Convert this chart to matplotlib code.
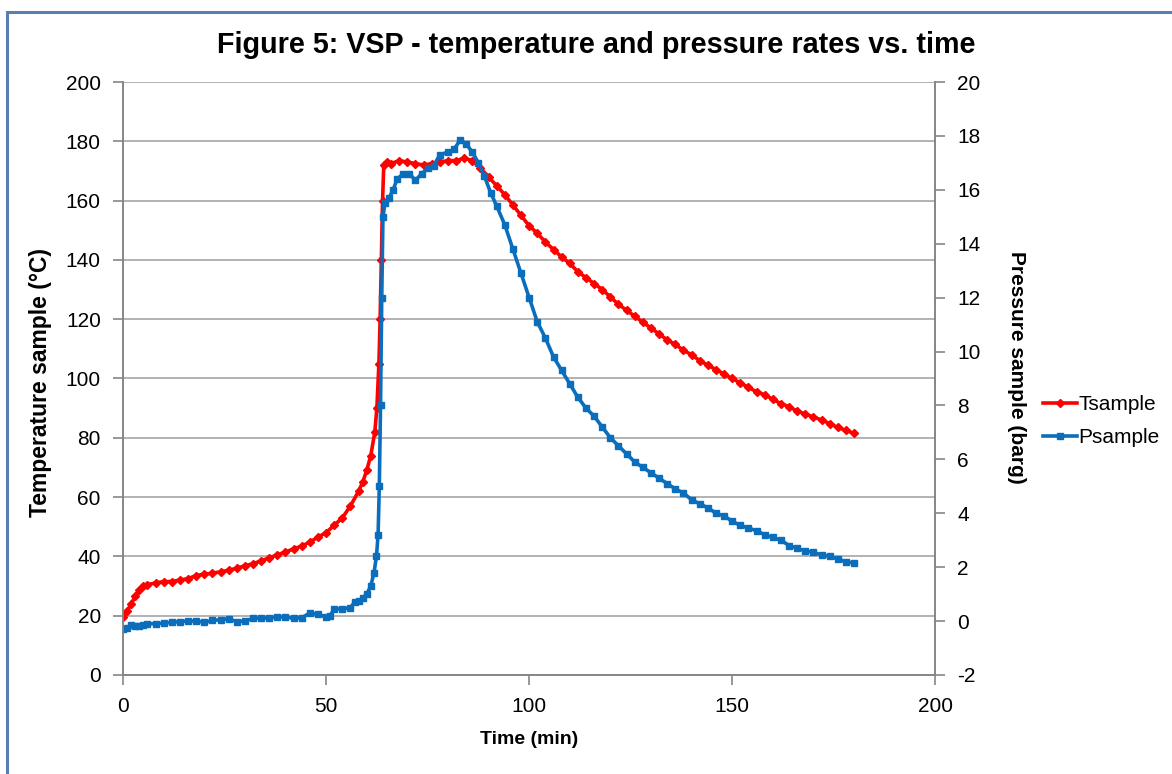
import matplotlib
matplotlib.use("Agg")
import matplotlib.pyplot as plt
from matplotlib.patches import Rectangle

plt.rcParams["font.family"] = ["Liberation Sans", "DejaVu Sans"]
plt.rcParams["axes.unicode_minus"] = False

# Tsample (degC) vs time (min)
t_temp = [0, 1, 2, 3, 4, 5, 6, 8, 10, 12, 14, 16, 18, 20, 22, 24, 26, 28, 30,
          32, 34, 36, 38, 40, 42, 44, 46, 48, 50, 52, 54, 56, 58, 59, 60, 61,
          62, 62.5, 63, 63.3, 63.6, 63.9, 64.2, 65, 66, 68, 70, 72, 74, 76, 78,
          80, 82, 84, 86, 88, 90, 92, 94, 96, 98, 100, 102, 104, 106, 108, 110,
          112, 114, 116, 118, 120, 122, 124, 126, 128, 130, 132, 134, 136, 138,
          140, 142, 144, 146, 148, 150, 152, 154, 156, 158, 160, 162, 164, 166,
          168, 170, 172, 174, 176, 178, 180]
tsample = [19.5, 21.5, 24, 26.5, 28.5, 30, 30.5, 31, 31.5, 31.5, 32, 32.5, 33.5,
           34, 34.3, 34.8, 35.3, 36, 36.8, 37.5, 38.5, 39.5, 40.5, 41.5, 42.5,
           43.5, 44.8, 46.5, 48, 50.5, 53, 57, 62, 65, 69, 74, 82, 90, 105, 120,
           140, 160, 172, 173, 172.5, 173.5, 173, 172.5, 172, 172.5, 173, 173.5,
           173.5, 174.3, 173.5, 171, 168, 165, 162, 158.5, 155, 151.5, 149, 146,
           143.5, 141, 138.8, 136, 134, 132, 130, 127.5, 125, 123, 121, 119, 117,
           115, 113, 111.5, 109.5, 108, 106, 104.5, 103, 101.5, 100, 98.5, 97,
           95.5, 94.5, 93, 91.5, 90.5, 89, 88, 87, 86, 84.8, 83.5, 82.5, 81.5]

# Psample (barg) vs time (min)
t_pres = [0, 1, 2, 3, 4, 5, 6, 8, 10, 12, 14, 16, 18, 20, 22, 24, 26, 28, 30,
          32, 34, 36, 38, 40, 42, 44, 46, 48, 50, 51, 52, 54, 56, 57, 58, 59, 60,
          61, 61.8, 62.4, 62.8, 63.1, 63.4, 63.7, 64, 64.5, 65.5, 66.5, 67.5, 69,
          70.5, 72, 73.5, 75, 76.5, 78, 80, 81.5, 83, 84.5, 86, 87.5, 89, 90.5,
          92, 94, 96, 98, 100, 102, 104, 106, 108, 110, 112, 114, 116, 118, 120,
          122, 124, 126, 128, 130, 132, 134, 136, 138, 140, 142, 144, 146, 148,
          150, 152, 154, 156, 158, 160, 162, 164, 166, 168, 170, 172, 174, 176,
          178, 180]
psample = [-0.3, -0.25, -0.15, -0.2, -0.2, -0.15, -0.1, -0.1, -0.08, -0.05,
           -0.02, 0.0, 0.0, -0.05, 0.02, 0.05, 0.08, -0.02, 0.0, 0.1, 0.1, 0.12,
           0.15, 0.15, 0.1, 0.12, 0.3, 0.25, 0.15, 0.2, 0.45, 0.45, 0.5, 0.7,
           0.75, 0.85, 1.0, 1.3, 1.8, 2.4, 3.2, 5, 8, 12, 15, 15.5, 15.7, 16,
           16.4, 16.6, 16.6, 16.35, 16.6, 16.8, 16.9, 17.3, 17.4, 17.5, 17.85,
           17.7, 17.4, 17.0, 16.5, 15.9, 15.4, 14.7, 13.8, 12.9, 12.0, 11.1, 10.5,
           9.8, 9.3, 8.8, 8.3, 7.9, 7.6, 7.2, 6.8, 6.5, 6.2, 5.9, 5.7, 5.5, 5.3,
           5.1, 4.9, 4.75, 4.5, 4.35, 4.2, 4.0, 3.9, 3.7, 3.55, 3.45, 3.35, 3.2,
           3.1, 3.0, 2.8, 2.7, 2.6, 2.55, 2.45, 2.4, 2.3, 2.2, 2.15]

grey = "#868686"

fig = plt.figure(figsize=(11.72, 7.74), dpi=100)
fig.patches.append(Rectangle((0.006, -0.05), 1.2, 1.0345, transform=fig.transFigure,
                             fill=False, edgecolor="#5a7fae", linewidth=2.2))

ax = fig.add_axes([0.105, 0.128, 0.693, 0.766])
ax2 = ax.twinx()

l1, = ax.plot(t_temp, tsample, color="#ff0000", lw=2.6, marker="D", ms=4,
              label="Tsample", zorder=3)
l2, = ax2.plot(t_pres, psample, color="#0a6ebd", lw=2.6, marker="s", ms=4,
               label="Psample")

ax.set_xlim(0, 200)
ax.set_ylim(0, 200)
ax2.set_ylim(-2, 20)
ax.set_xticks(range(0, 201, 50))
ax.set_yticks(range(0, 201, 20))
ax2.set_yticks(range(-2, 21, 2))
ax.yaxis.grid(True, color="#a6a6a6", lw=1.2)
ax.set_axisbelow(True)

for a in (ax, ax2):
    a.spines["top"].set_visible(False)
    for s in ("left", "right", "bottom"):
        a.spines[s].set_color(grey)
        a.spines[s].set_linewidth(1.2)
    a.tick_params(colors=grey, labelcolor="black", labelsize=15, length=7,
                  width=1.2, pad=9)

fig.text(0.509, 0.942, "Figure 5: VSP - temperature and pressure rates vs. time",
         fontsize=20.7, fontweight="bold", ha="center", va="center")
ax.set_xlabel("Time (min)", fontsize=14, fontweight="bold")
ax.xaxis.set_label_coords(0.5, -0.095)
ax.set_ylabel("Temperature sample (\u00b0C)", fontsize=16.5, fontweight="bold")
ax.yaxis.set_label_coords(-0.087, 0.494)
ax2.set_ylabel("Pressure sample (barg)", fontsize=15, fontweight="bold",
               rotation=270, va="center")
ax2.yaxis.set_label_coords(1.1, 0.518)

fig.legend(handles=[l1, l2], loc="center left", bbox_to_anchor=(0.883, 0.456),
           frameon=False, fontsize=15, handlelength=1.6, handletextpad=0.1,
           labelspacing=0.65, borderaxespad=0)

fig.savefig("out.png", dpi=100)
